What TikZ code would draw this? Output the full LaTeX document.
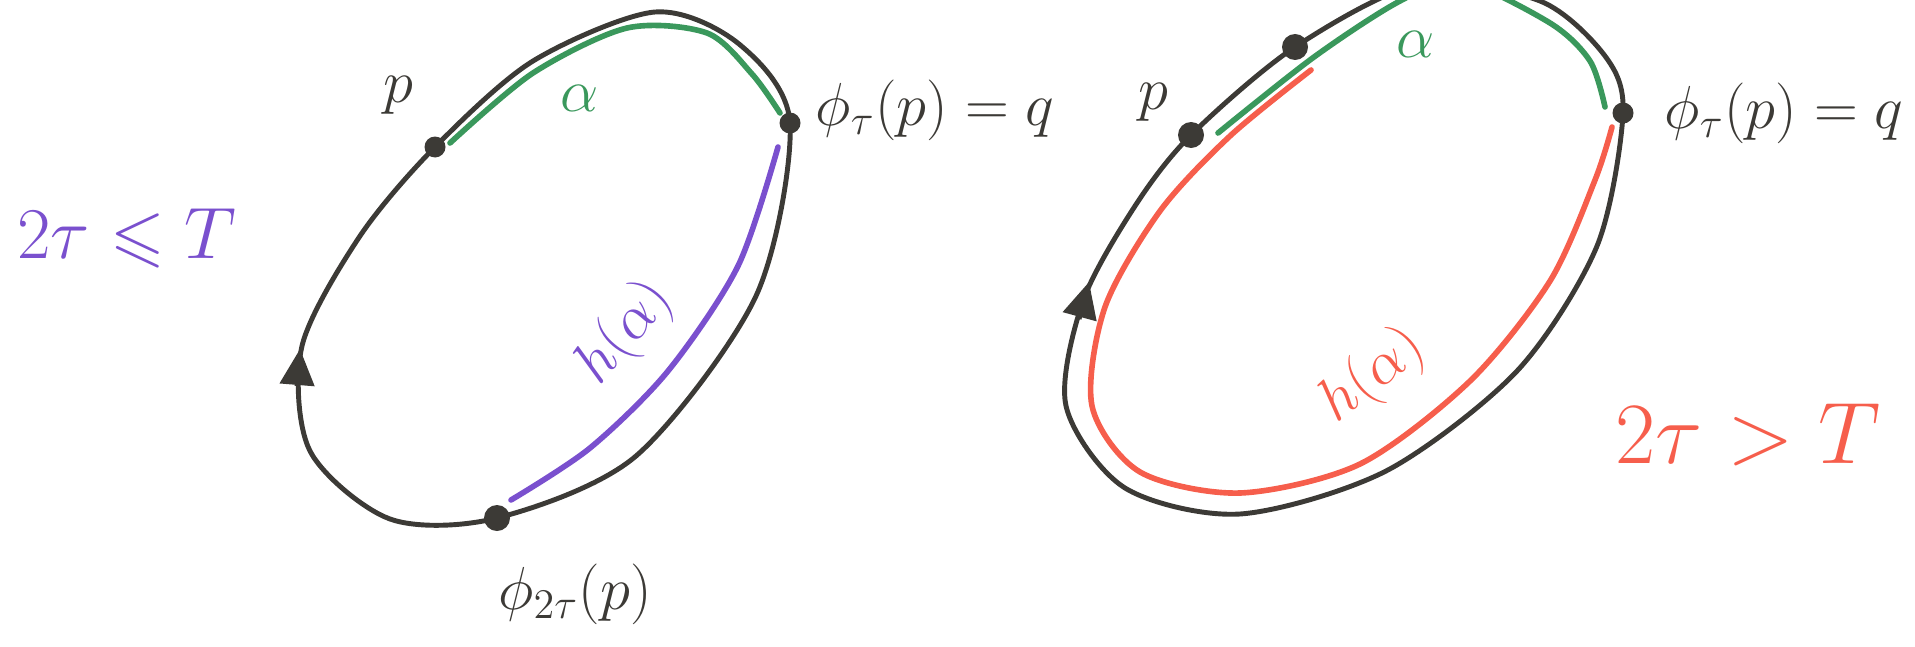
\documentclass[tikz,border=0pt]{standalone}
\usepackage{amssymb}
\usetikzlibrary{arrows.meta}
\definecolor{inkgrey}{RGB}{60,58,54}
\definecolor{inkgreen}{RGB}{58,152,92}
\definecolor{inkpurple}{RGB}{122,80,206}
\definecolor{inkred}{RGB}{246,94,76}
\tikzset{
  orbit/.style={draw=inkgrey,line width=1.4pt,line join=round},
  arcpen/.style={line width=1.6pt,line cap=round,line join=round},
  flowtip/.style={-{Triangle[length=3.6mm,width=3.4mm]},draw=inkgrey,line width=1.4pt},
  dot/.style={circle,fill=inkgrey,inner sep=0pt,minimum size=2.1mm},
  tag/.style={text=inkgrey,inner sep=1pt,font=\fontsize{17}{20}\selectfont},
  cond/.style={inner sep=1pt,font=\fontsize{25}{29}\selectfont},
}

\begin{document}
\begin{tikzpicture}[
  bigdot/.style={dot,minimum size=2.6mm},
  hlabel/.style={inner sep=1pt,font=\fontsize{18}{21}\selectfont}]

\useasboundingbox (0,0) rectangle (19.15,6.46);
\clip (0,0) rectangle (19.15,6.46);

% =======================  LEFT: 2tau <= T  =======================
\coordinate (p1) at (4.35,4.99);
\coordinate (q1) at (7.90,5.23);
\coordinate (r1) at (4.97,1.28);

\draw[orbit] plot[smooth cycle] coordinates {
  (p1) (5.33,5.85) (6.55,6.34) (7.39,6.02) (q1) (7.56,3.50) (6.36,1.90)
  (r1) (3.90,1.27) (3.10,1.95) (3.02,3.00) (3.60,4.10)};
\draw[arcpen,inkgreen] plot[smooth] coordinates {
  (4.50,5.03) (5.33,5.73) (6.27,6.18) (7.07,6.13) (7.52,5.72) (7.80,5.33)};
\draw[arcpen,inkpurple] plot[smooth] coordinates {
  (7.78,4.99) (7.38,3.80) (6.68,2.75) (5.90,1.98) (5.11,1.46)};
\draw[flowtip] (2.97,2.60) -- (3.00,2.97);

\node[dot] (p1dot) at (p1) {};
\node[dot] (q1dot) at (q1) {};
\node[bigdot] (r1dot) at (r1) {};

\node[tag] (p1lbl) at (3.98,5.51) {$p$};
\node[tag,text=inkgreen] (a1lbl) at (5.80,5.48) {$\alpha$};
\node[tag] (q1lbl) at (9.35,5.36) {$\phi_\tau(p)=q$};
\node[tag] (r1lbl) at (5.75,0.52) {$\phi_{2\tau}(p)$};
\node[hlabel,text=inkpurple,rotate=50] (h1lbl) at (6.25,3.13) {$h(\alpha)$};
\node[cond,text=inkpurple,font=\fontsize{20}{24}\selectfont] (c1lbl)
  at (1.27,4.08) {$2\tau\leqslant T$};

% =======================  RIGHT: 2tau > T  =======================
\coordinate (p2) at (11.91,5.11);
\coordinate (s2) at (12.95,5.99);
\coordinate (q2) at (16.23,5.33);

\draw[orbit] plot[smooth cycle] coordinates {
  (p2) (s2) (14.20,6.62) (15.40,6.45) (16.05,5.90) (q2) (15.97,4.00)
  (15.17,2.75) (13.86,1.75) (12.40,1.32) (11.25,1.58) (10.66,2.40)
  (10.83,3.45) (11.35,4.40)};
\draw[arcpen,inkgreen] plot[smooth] coordinates {
  (12.18,5.13) (13.14,5.89) (14.00,6.45) (14.60,6.65) (15.50,6.23)
  (15.90,5.85) (16.05,5.39)};
\draw[arcpen,inkred] plot[smooth] coordinates {
  (13.11,5.76) (12.30,5.10) (11.60,4.35) (11.05,3.39) (10.92,2.40)
  (11.40,1.74) (12.40,1.53) (13.60,1.82) (14.70,2.65) (15.50,3.65)
  (15.95,4.66) (16.12,5.19)};
\draw[flowtip] (10.79,3.27) -- (10.89,3.64);

\node[bigdot] (p2dot) at (p2) {};
\node[bigdot] (s2dot) at (s2) {};
\node[dot] (q2dot) at (q2) {};

\node[tag] (p2lbl) at (11.53,5.44) {$p$};
\node[tag,text=inkgreen] (a2lbl) at (14.16,6.02) {$\alpha$};
\node[tag] (q2lbl) at (17.84,5.33) {$\phi_\tau(p)=q$};
\node[hlabel,text=inkred,rotate=38] (h2lbl) at (13.73,2.70) {$h(\alpha)$};
\node[cond,text=inkred] (c2lbl) at (17.48,2.11) {$2\tau>T$};

\end{tikzpicture}
\end{document}
